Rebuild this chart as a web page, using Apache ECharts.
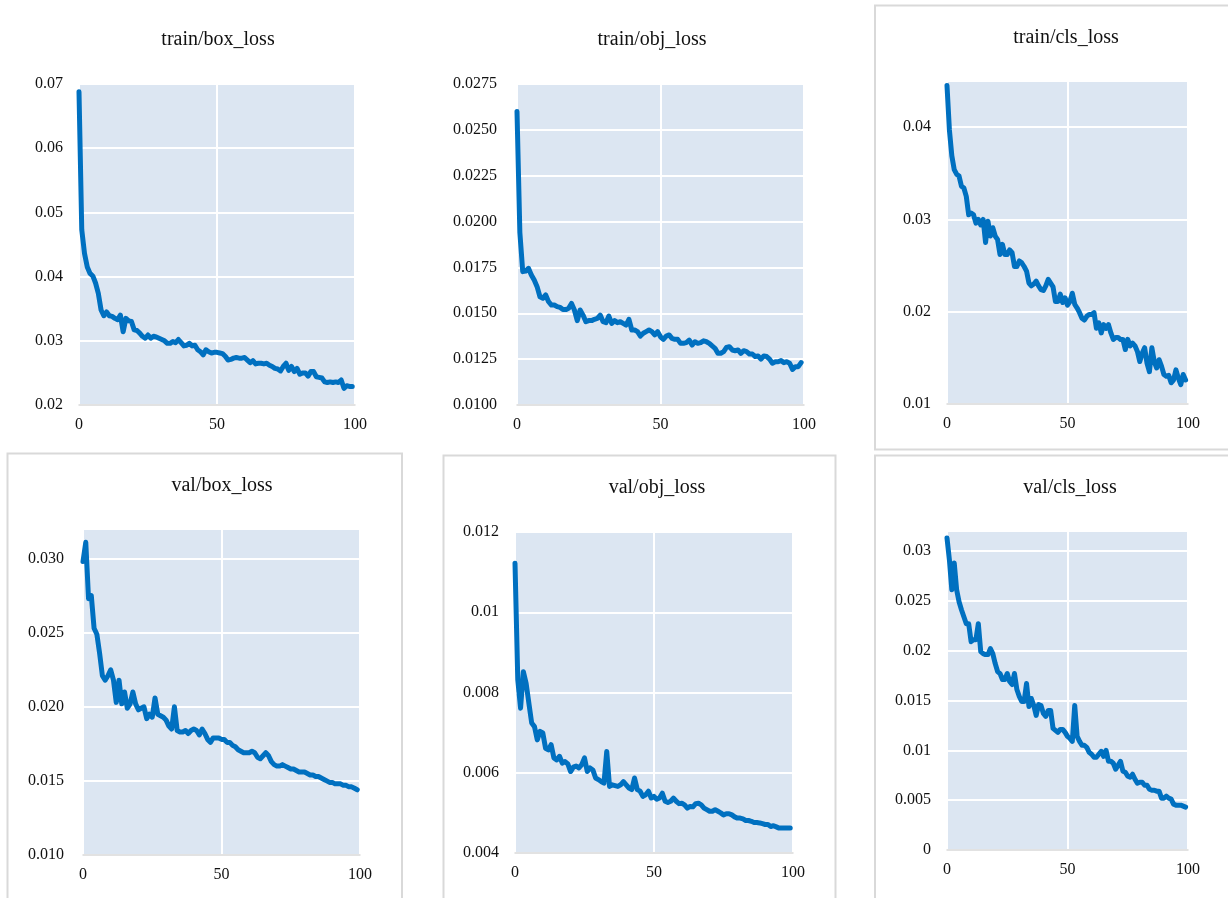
<!DOCTYPE html>
<html>
<head>
<meta charset="utf-8">
<title>YOLO losses</title>
<script src="https://cdn.jsdelivr.net/npm/echarts@6/dist/echarts.min.js"></script>
<style>
  html, body { margin: 0; padding: 0; background: #fff; }
  #chart { width: 1228px; height: 898px; }
</style>
</head>
<body>
<div id="chart"></div>
<script>
// epochs 0..99 (x categories)
const epochs = Array.from({ length: 100 }, (_, i) => i);
const xTicks = [0, 50, 100];

const trainBoxLoss = [
  0.0688, 0.0473, 0.0436, 0.0415, 0.0405, 0.0401, 0.0390, 0.0374, 0.0348, 0.0339,
  0.0345, 0.0339, 0.0338, 0.0335, 0.0333, 0.0340, 0.0314, 0.0335, 0.0331, 0.0330,
  0.0317, 0.0316, 0.0312, 0.0307, 0.0304, 0.0309, 0.0304, 0.0307, 0.0306, 0.0304,
  0.0302, 0.0300, 0.0296, 0.0296, 0.0299, 0.0297, 0.0302, 0.0297, 0.0292, 0.0293,
  0.0296, 0.0292, 0.0293, 0.0286, 0.0283, 0.0278, 0.0286, 0.0283, 0.0281, 0.0282,
  0.0282, 0.0281, 0.0280, 0.0276, 0.0270, 0.0271, 0.0273, 0.0274, 0.0273, 0.0273,
  0.0274, 0.0270, 0.0266, 0.0269, 0.0264, 0.0265, 0.0265, 0.0264, 0.0265, 0.0262,
  0.0260, 0.0257, 0.0256, 0.0253, 0.0260, 0.0265, 0.0254, 0.0260, 0.0252, 0.0257,
  0.0248, 0.0250, 0.0250, 0.0245, 0.0252, 0.0252, 0.0244, 0.0243, 0.0242, 0.0236,
  0.0235, 0.0236, 0.0235, 0.0236, 0.0235, 0.0239, 0.0226, 0.0230, 0.0229, 0.0229
];

const trainObjLoss = [
  0.02600, 0.01940, 0.01727, 0.01730, 0.01745, 0.01709, 0.01681, 0.01645, 0.01590, 0.01582,
  0.01600, 0.01563, 0.01545, 0.01545, 0.01536, 0.01532, 0.01521, 0.01520, 0.01527, 0.01554,
  0.01518, 0.01460, 0.01518, 0.01490, 0.01454, 0.01460, 0.01460, 0.01467, 0.01472, 0.01490,
  0.01454, 0.01449, 0.01485, 0.01445, 0.01460, 0.01449, 0.01454, 0.01445, 0.01436, 0.01467,
  0.01409, 0.01409, 0.01400, 0.01376, 0.01391, 0.01400, 0.01409, 0.01400, 0.01382, 0.01400,
  0.01372, 0.01358, 0.01376, 0.01382, 0.01363, 0.01358, 0.01358, 0.01336, 0.01336, 0.01340,
  0.01354, 0.01327, 0.01345, 0.01336, 0.01340, 0.01350, 0.01345, 0.01336, 0.01322, 0.01309,
  0.01282, 0.01282, 0.01291, 0.01314, 0.01318, 0.01300, 0.01296, 0.01300, 0.01282, 0.01296,
  0.01291, 0.01278, 0.01278, 0.01264, 0.01267, 0.01250, 0.01267, 0.01264, 0.01250, 0.01228,
  0.01236, 0.01236, 0.01242, 0.01231, 0.01236, 0.01228, 0.01194, 0.01209, 0.01209, 0.01231
];

const trainClsLoss = [
  0.0445, 0.0397, 0.0369, 0.0354, 0.0349, 0.0347, 0.0336, 0.0334, 0.0325, 0.0305,
  0.0307, 0.0305, 0.0296, 0.0300, 0.0294, 0.0300, 0.0275, 0.0298, 0.0282, 0.0291,
  0.0282, 0.0278, 0.0262, 0.0273, 0.0262, 0.0262, 0.0267, 0.0264, 0.0249, 0.0249,
  0.0255, 0.0253, 0.0249, 0.0244, 0.0231, 0.0228, 0.0230, 0.0233, 0.0228, 0.0224,
  0.0223, 0.0228, 0.0235, 0.0231, 0.0227, 0.0211, 0.0211, 0.0219, 0.0210, 0.0215,
  0.0207, 0.0211, 0.0220, 0.0208, 0.0204, 0.0199, 0.0193, 0.0191, 0.0195, 0.0197,
  0.0197, 0.0199, 0.0182, 0.0188, 0.0177, 0.0186, 0.0182, 0.0186, 0.0177, 0.0170,
  0.0172, 0.0172, 0.0170, 0.0170, 0.0159, 0.0170, 0.0163, 0.0166, 0.0163, 0.0157,
  0.0146, 0.0155, 0.0161, 0.0144, 0.0135, 0.0161, 0.0146, 0.0139, 0.0148, 0.0141,
  0.0132, 0.0130, 0.0131, 0.0123, 0.0126, 0.0137, 0.0128, 0.0121, 0.0132, 0.0126
];

const valBoxLoss = [
  0.0298, 0.0311, 0.0273, 0.0275, 0.0253, 0.0249, 0.0236, 0.0221, 0.0218, 0.0221,
  0.0225, 0.0218, 0.0203, 0.0218, 0.0202, 0.0210, 0.0199, 0.0202, 0.0210, 0.0202,
  0.0198, 0.0199, 0.0200, 0.0192, 0.0195, 0.0193, 0.0206, 0.0195, 0.0194, 0.0193,
  0.0191, 0.0187, 0.0185, 0.0200, 0.0184, 0.0183, 0.0183, 0.0184, 0.0182, 0.0184,
  0.0185, 0.0184, 0.0181, 0.0185, 0.0182, 0.0178, 0.0176, 0.0179, 0.0179, 0.0179,
  0.0178, 0.0178, 0.0176, 0.0176, 0.0174, 0.0173, 0.0171, 0.0170, 0.0169, 0.0169,
  0.0169, 0.0170, 0.0169, 0.0166, 0.0165, 0.0167, 0.0169, 0.0167, 0.0163, 0.0161,
  0.0160, 0.0160, 0.0161, 0.0160, 0.0159, 0.0158, 0.0158, 0.0157, 0.0156, 0.0156,
  0.0156, 0.0155, 0.0154, 0.0154, 0.0153, 0.0153, 0.0152, 0.0151, 0.0150, 0.0149,
  0.0149, 0.0148, 0.0148, 0.0148, 0.0147, 0.0147, 0.0146, 0.0146, 0.0145, 0.0144
];

const valObjLoss = [
  0.01122, 0.00832, 0.00761, 0.00852, 0.00823, 0.00773, 0.00724, 0.00715, 0.00682, 0.00703,
  0.00699, 0.00661, 0.00657, 0.00670, 0.00637, 0.00632, 0.00641, 0.00624, 0.00628, 0.00622,
  0.00603, 0.00614, 0.00617, 0.00612, 0.00620, 0.00637, 0.00603, 0.00612, 0.00607, 0.00587,
  0.00583, 0.00578, 0.00574, 0.00653, 0.00566, 0.00570, 0.00568, 0.00566, 0.00570, 0.00578,
  0.00570, 0.00562, 0.00558, 0.00587, 0.00558, 0.00554, 0.00541, 0.00545, 0.00554, 0.00537,
  0.00541, 0.00534, 0.00537, 0.00549, 0.00529, 0.00526, 0.00529, 0.00537, 0.00529, 0.00523,
  0.00524, 0.00520, 0.00512, 0.00516, 0.00515, 0.00523, 0.00524, 0.00520, 0.00512, 0.00508,
  0.00504, 0.00504, 0.00508, 0.00504, 0.00500, 0.00495, 0.00498, 0.00498, 0.00495, 0.00490,
  0.00487, 0.00487, 0.00485, 0.00481, 0.00481, 0.00479, 0.00476, 0.00476, 0.00475, 0.00473,
  0.00471, 0.00471, 0.00466, 0.00468, 0.00465, 0.00462, 0.00462, 0.00462, 0.00462, 0.00462
];

const valClsLoss = [
  0.0313, 0.0291, 0.0261, 0.0288, 0.0261, 0.0249, 0.0241, 0.0234, 0.0227, 0.0227,
  0.0209, 0.0211, 0.0211, 0.0227, 0.0199, 0.0197, 0.0196, 0.0196, 0.0202, 0.0197,
  0.0187, 0.0179, 0.0177, 0.0171, 0.0171, 0.0177, 0.0169, 0.0166, 0.0177, 0.0161,
  0.0154, 0.0149, 0.0149, 0.0167, 0.0144, 0.0152, 0.0145, 0.0135, 0.0146, 0.0145,
  0.0137, 0.0134, 0.0140, 0.0140, 0.0122, 0.0120, 0.0118, 0.0121, 0.0121, 0.0118,
  0.0114, 0.0112, 0.0109, 0.0145, 0.0114, 0.0109, 0.0105, 0.0105, 0.0103, 0.0098,
  0.0096, 0.0093, 0.0093, 0.0096, 0.0099, 0.0094, 0.0100, 0.0089, 0.0089, 0.0087,
  0.0081, 0.0085, 0.0089, 0.0079, 0.0078, 0.0074, 0.0073, 0.0076, 0.0071, 0.0067,
  0.0068, 0.0068, 0.0065, 0.0065, 0.0061, 0.0060, 0.0060, 0.0059, 0.0059, 0.0052,
  0.0052, 0.0054, 0.0052, 0.0051, 0.0046, 0.0045, 0.0045, 0.0045, 0.0044, 0.0043
];

const FONT = '"Liberation Serif", "DejaVu Serif", serif';
const TEXT = '#111';
const LINE = '#0070c0';

// layout of the six small charts (px), y axis range and label format
const panels = [
  { name: 'train/box_loss', data: trainBoxLoss, grid: [79, 84, 276, 321], tx: 218, ty: 40,
    y: [0.02, 0.07, 0.01], dec: 2, margin: 16, border: null },
  { name: 'train/obj_loss', data: trainObjLoss, grid: [517, 84, 287, 321], tx: 652, ty: 40,
    y: [0.01, 0.0275, 0.0025], dec: 4, margin: 20, border: null },
  { name: 'train/cls_loss', data: trainClsLoss, grid: [947, 81, 241, 323], tx: 1066, ty: 38,
    y: [0.01, 0.045, 0.01], dec: 2, margin: 16, border: [875, 5.5, 400, 444] },
  { name: 'val/box_loss', data: valBoxLoss, grid: [83, 529, 277, 326], tx: 222, ty: 486,
    y: [0.01, 0.032, 0.005], dec: 3, margin: 19, border: [7.5, 453.5, 394.5, 500] },
  { name: 'val/obj_loss', data: valObjLoss, grid: [515, 532, 278, 321], tx: 657, ty: 488,
    y: [0.004, 0.012, 0.002], dec: null, margin: 16, border: [443.5, 455.5, 392, 500] },
  { name: 'val/cls_loss', data: valClsLoss, grid: [947, 531, 241, 319], tx: 1070, ty: 488,
    y: [0, 0.032, 0.005], dec: null, margin: 16, border: [875, 455.5, 400, 500] }
];

const chart = echarts.init(document.getElementById('chart'));

const graphic = [];
panels.forEach(p => {
  if (p.border) {
    graphic.push({
      type: 'rect', silent: true, z: 0,
      shape: { x: p.border[0], y: p.border[1], width: p.border[2], height: p.border[3] },
      style: { fill: 'none', stroke: '#d9d9d9', lineWidth: 2 }
    });
  }
  graphic.push({
    type: 'text', silent: true, x: p.tx, y: p.ty,
    style: {
      text: p.name, fontSize: 20, fontFamily: FONT, fill: TEXT,
      align: 'center', verticalAlign: 'middle',
      textAlign: 'center', textVerticalAlign: 'middle'
    }
  });
});

chart.setOption({
  animation: false,
  backgroundColor: '#fff',
  textStyle: { fontFamily: FONT },
  graphic: graphic,
  grid: panels.map(p => ({
    left: p.grid[0], top: p.grid[1], width: p.grid[2], height: p.grid[3],
    show: true, backgroundColor: '#dce6f2', borderWidth: 0, containLabel: false
  })),
  xAxis: panels.map((p, i) => ({
    type: 'value', gridIndex: i,
    min: xTicks[0], max: xTicks[xTicks.length - 1], interval: xTicks[1] - xTicks[0],
    axisLine: { show: true, lineStyle: { color: '#d9d9d9', width: 1.5 } },
    axisTick: { show: false },
    axisLabel: { color: TEXT, fontSize: 16, fontFamily: FONT, margin: 12 },
    splitLine: { show: true, lineStyle: { color: '#fff', width: 2 } }
  })),
  yAxis: panels.map((p, i) => ({
    type: 'value', gridIndex: i,
    min: p.y[0], max: p.y[1], interval: p.y[2],
    axisLine: { show: false },
    axisTick: { show: false },
    axisLabel: {
      color: TEXT, fontSize: 16, fontFamily: FONT, margin: p.margin,
      showMaxLabel: Math.abs(((p.y[1] - p.y[0]) / p.y[2]) - Math.round((p.y[1] - p.y[0]) / p.y[2])) < 1e-6,
      formatter: v => p.dec === null ? String(+v.toFixed(4)) : v.toFixed(p.dec)
    },
    splitLine: { show: true, lineStyle: { color: '#fff', width: 2 } }
  })),
  series: panels.map((p, i) => ({
    type: 'line', name: p.name,
    xAxisIndex: i, yAxisIndex: i,
    data: p.data.map((v, k) => [epochs[k], v]),
    showSymbol: false, smooth: false,
    lineStyle: { color: LINE, width: 5, cap: 'round', join: 'round' },
    itemStyle: { color: LINE }
  }))
});
</script>
</body>
</html>
